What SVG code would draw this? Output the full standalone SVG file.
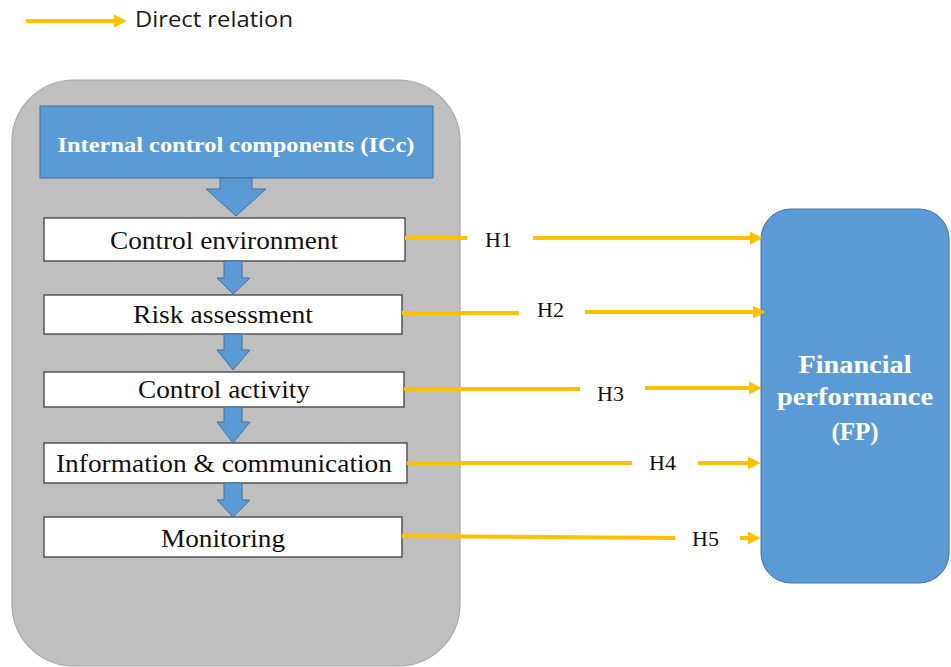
<svg xmlns="http://www.w3.org/2000/svg" width="951" height="667" viewBox="0 0 951 667">
<style>
.box{fill:#ffffff;stroke:#404040;stroke-width:1.3}
.lbl{font-family:"Liberation Serif","Times New Roman",serif;font-size:25px;fill:#111111;text-anchor:middle}
.h{font-family:"Liberation Serif","Times New Roman",serif;font-size:22px;fill:#111111}
.ylw{stroke:#FFC000;stroke-width:4;fill:none}
.barrow{fill:#5B9BD5;stroke:#41719C;stroke-width:1}
.bold{font-family:"Liberation Serif","Times New Roman",serif;font-weight:bold;fill:#ffffff;text-anchor:middle}
</style>
<defs>
<marker id="ah" markerUnits="userSpaceOnUse" markerWidth="13" markerHeight="14" refX="0" refY="7" orient="auto">
<path d="M0,0.5 L12.5,7 L0,13.5 z" fill="#FFC000"/>
</marker>
</defs>
<rect width="951" height="667" fill="#ffffff"/>
<g id="legend">
<line class="ylw" x1="26" y1="21" x2="114" y2="21" marker-end="url(#ah)"/>
<text x="135" y="27" font-family="'Open Sans','Noto Sans',sans-serif" font-size="21" fill="#1a1a1a" textLength="158" lengthAdjust="spacingAndGlyphs">Direct relation</text>
</g>
<g id="icc-container">
<rect x="12" y="80" width="448" height="586" rx="62" ry="62" fill="#BFBFBF" stroke="#A6A6A6" stroke-width="1.2"/>
</g>
<g id="icc-header">
<rect x="40" y="106" width="393" height="72" fill="#5B9BD5" stroke="#41719C" stroke-width="1"/>
<text class="bold" x="236" y="152" font-size="21" textLength="357" lengthAdjust="spacingAndGlyphs">Internal control components (ICc)</text>
</g>
<g id="control-environment">
<rect class="box" x="44" y="218" width="361" height="43"/>
<text class="lbl" x="224" y="249" textLength="228" lengthAdjust="spacingAndGlyphs">Control environment</text>
</g>
<g id="risk-assessment">
<rect class="box" x="44" y="295" width="358" height="39"/>
<text class="lbl" x="223" y="323" textLength="180" lengthAdjust="spacingAndGlyphs">Risk assessment</text>
</g>
<g id="control-activity">
<rect class="box" x="44" y="372" width="360" height="35"/>
<text class="lbl" x="224" y="398" textLength="172" lengthAdjust="spacingAndGlyphs">Control activity</text>
</g>
<g id="information-communication">
<rect class="box" x="44" y="443" width="363" height="40"/>
<text class="lbl" x="224" y="472" textLength="336" lengthAdjust="spacingAndGlyphs">Information &amp; communication</text>
</g>
<g id="monitoring">
<rect class="box" x="44" y="517" width="358" height="40"/>
<text class="lbl" x="223" y="547" textLength="124" lengthAdjust="spacingAndGlyphs">Monitoring</text>
</g>
<g id="financial-performance">
<rect x="761" y="209" width="188" height="374" rx="30" ry="30" fill="#5B9BD5" stroke="#41719C" stroke-width="1"/>
<text class="bold" x="855" y="373" font-size="25" textLength="113" lengthAdjust="spacingAndGlyphs">Financial</text>
<text class="bold" x="855" y="405" font-size="25" textLength="156" lengthAdjust="spacingAndGlyphs">performance</text>
<text class="bold" x="855" y="440" font-size="25">(FP)</text>
</g>
<g id="connectors">
<polygon class="barrow" points="220,178 252,178 252,189 266,189 236,216 206,189 220,189"/>
<polygon class="barrow" points="224,261 242,261 242,278 250,278 233,294 217,278 224,278"/>
<polygon class="barrow" points="224,334 242,334 242,350 250,350 233,370 217,350 224,350"/>
<polygon class="barrow" points="224,407 242,407 242,422 250,422 233,443 217,422 224,422"/>
<polygon class="barrow" points="224,483 242,483 242,500 250,500 233,517 217,500 224,500"/>
<line class="ylw" x1="405" y1="238" x2="467" y2="238"/>
<line class="ylw" x1="533" y1="238" x2="750" y2="238" marker-end="url(#ah)"/>
<text class="h" x="485" y="247">H1</text>
<line class="ylw" x1="402" y1="313" x2="519" y2="313"/>
<line class="ylw" x1="585" y1="312" x2="753" y2="312" marker-end="url(#ah)"/>
<text class="h" x="537" y="317">H2</text>
<line class="ylw" x1="404" y1="389" x2="580" y2="389"/>
<line class="ylw" x1="645" y1="388" x2="749" y2="388" marker-end="url(#ah)"/>
<text class="h" x="597" y="401">H3</text>
<line class="ylw" x1="407" y1="463" x2="632" y2="463"/>
<line class="ylw" x1="698" y1="463" x2="748" y2="463" marker-end="url(#ah)"/>
<text class="h" x="649" y="470">H4</text>
<line class="ylw" x1="402" y1="536" x2="675" y2="538"/>
<line class="ylw" x1="740" y1="538" x2="748" y2="538" marker-end="url(#ah)"/>
<text class="h" x="692" y="546">H5</text>
</g>
</svg>
